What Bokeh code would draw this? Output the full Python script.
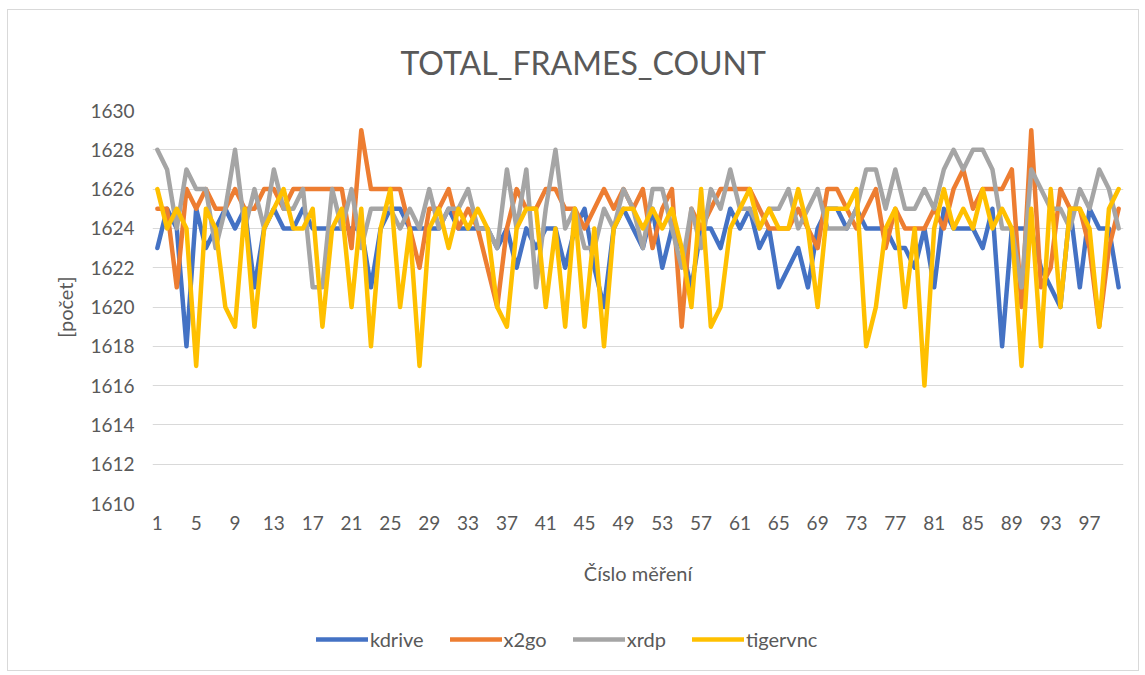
from bokeh.plotting import figure
from bokeh.layouts import column
from bokeh.models import Range1d, FixedTicker, Legend, LegendItem, Title
from bokeh.embed import file_html
from bokeh.resources import INLINE

measurements = list(range(1, 101))

kdrive = [1623, 1625, 1624, 1618, 1625, 1623, 1624, 1625, 1624, 1625,
          1621, 1624, 1625, 1624, 1624, 1625, 1624, 1624, 1624, 1624,
          1624, 1624, 1621, 1624, 1625, 1625, 1624, 1624, 1624, 1624,
          1625, 1624, 1624, 1624, 1624, 1623, 1624, 1622, 1624, 1623,
          1624, 1624, 1622, 1624, 1625, 1622, 1620, 1624, 1625, 1624,
          1623, 1625, 1622, 1624, 1623, 1621, 1624, 1624, 1623, 1625,
          1624, 1625, 1623, 1624, 1621, 1622, 1623, 1621, 1624, 1625,
          1625, 1624, 1625, 1624, 1624, 1624, 1623, 1623, 1622, 1624,
          1621, 1625, 1624, 1624, 1624, 1623, 1625, 1618, 1624, 1624,
          1624, 1622, 1621, 1620, 1625, 1621, 1625, 1624, 1624, 1621]

x2go = [1625, 1625, 1621, 1626, 1625, 1626, 1625, 1625, 1626, 1625,
        1625, 1626, 1626, 1625, 1626, 1626, 1626, 1626, 1626, 1626,
        1623, 1629, 1626, 1626, 1626, 1626, 1624, 1622, 1625, 1625,
        1626, 1624, 1625, 1624, 1622, 1620, 1624, 1626, 1625, 1625,
        1626, 1626, 1625, 1625, 1624, 1625, 1626, 1625, 1626, 1625,
        1626, 1623, 1625, 1626, 1619, 1625, 1624, 1625, 1626, 1626,
        1626, 1626, 1625, 1624, 1624, 1624, 1625, 1624, 1623, 1626,
        1626, 1625, 1624, 1625, 1626, 1623, 1625, 1624, 1624, 1624,
        1625, 1624, 1626, 1627, 1625, 1626, 1626, 1626, 1627, 1620,
        1629, 1621, 1622, 1626, 1625, 1625, 1623, 1619, 1623, 1625]

xrdp = [1628, 1627, 1624, 1627, 1626, 1626, 1623, 1625, 1628, 1624,
        1626, 1624, 1627, 1625, 1625, 1626, 1621, 1621, 1626, 1624,
        1626, 1623, 1625, 1625, 1625, 1624, 1625, 1624, 1626, 1624,
        1625, 1625, 1626, 1624, 1624, 1623, 1627, 1624, 1627, 1621,
        1625, 1628, 1624, 1625, 1623, 1623, 1625, 1624, 1626, 1625,
        1623, 1626, 1626, 1624, 1622, 1625, 1623, 1626, 1625, 1627,
        1625, 1625, 1624, 1625, 1625, 1626, 1624, 1625, 1626, 1624,
        1624, 1624, 1625, 1627, 1627, 1625, 1627, 1625, 1625, 1626,
        1625, 1627, 1628, 1627, 1628, 1628, 1627, 1624, 1624, 1621,
        1627, 1626, 1625, 1625, 1624, 1626, 1625, 1627, 1626, 1624]

tigervnc = [1626, 1624, 1625, 1624, 1617, 1625, 1624, 1620, 1619, 1625,
            1619, 1624, 1625, 1626, 1624, 1624, 1625, 1619, 1624, 1625,
            1620, 1625, 1618, 1624, 1626, 1620, 1624, 1617, 1624, 1625,
            1623, 1625, 1624, 1625, 1624, 1620, 1619, 1624, 1625, 1625,
            1620, 1624, 1619, 1625, 1619, 1624, 1618, 1624, 1625, 1625,
            1624, 1625, 1624, 1625, 1623, 1620, 1626, 1619, 1620, 1624,
            1625, 1626, 1624, 1625, 1624, 1624, 1626, 1624, 1620, 1625,
            1625, 1625, 1626, 1618, 1620, 1624, 1625, 1620, 1624, 1616,
            1624, 1626, 1624, 1625, 1624, 1626, 1624, 1625, 1624, 1617,
            1625, 1618, 1626, 1620, 1625, 1625, 1624, 1619, 1625, 1626]

series_names = ["kdrive", "x2go", "xrdp", "tigervnc"]
series_values = [kdrive, x2go, xrdp, tigervnc]
series_colors = ["#4472C4", "#ED7D31", "#A5A5A5", "#FFC000"]

y_ticks = list(range(1610, 1631, 2))
x_ticks = list(range(1, 101, 4))

TEXT = "#595959"
FONT = "Lato"
W = 1130

p = figure(width=W, height=600, output_backend="svg", toolbar_location=None,
           x_range=Range1d(0.5, 100.5), y_range=Range1d(1610, 1630),
           min_border_left=144, min_border_right=15, min_border_top=100,
           min_border_bottom=107)
p.outline_line_color = None

t = Title(text="TOTAL_FRAMES_COUNT", align="left", offset=248,
          text_font=FONT, text_font_size="32px", text_font_style="normal",
          text_color=TEXT, standoff=58)
p.add_layout(t, "above")

p.xgrid.grid_line_color = None
p.ygrid.grid_line_color = "#D9D9D9"
p.ygrid.grid_line_width = 1.2
p.ygrid.ticker = FixedTicker(ticks=y_ticks)

p.yaxis.ticker = FixedTicker(ticks=y_ticks)
p.xaxis.ticker = FixedTicker(ticks=x_ticks)
for ax in (p.xaxis[0], p.yaxis[0]):
    ax.axis_line_color = None
    ax.major_tick_line_color = None
    ax.minor_tick_line_color = None
    ax.major_label_text_font = FONT
    ax.major_label_text_font_size = "19px"
    ax.major_label_text_color = TEXT
    ax.axis_label_text_font = FONT
    ax.axis_label_text_font_size = "20px"
    ax.axis_label_text_font_style = "normal"
    ax.axis_label_text_color = TEXT

p.xaxis.axis_label = "Číslo měření"
p.xaxis.major_label_standoff = 6
p.xaxis.axis_label_standoff = 28
p.yaxis.axis_label = "[počet]"
p.yaxis.major_label_standoff = 12
p.yaxis.axis_label_standoff = 10

for name, vals, col in zip(series_names, series_values, series_colors):
    p.line(measurements, vals, line_color=col, line_width=4.5,
           line_join="round", line_cap="round")

# legend strip below the chart (same series, drawn outside its visible range)
lg = figure(width=W, height=60, output_backend="svg", toolbar_location=None,
            x_range=Range1d(-1000, -999), y_range=Range1d(0, 1),
            x_axis_type=None, y_axis_type=None, min_border=0)
lg.grid.visible = False
lg.outline_line_color = None
items = []
for name, vals, col in zip(series_names, series_values, series_colors):
    r = lg.line(measurements, vals, line_color=col, line_width=4.5,
                line_cap="round")
    items.append(LegendItem(label=name, renderers=[r]))
legend = Legend(items=items, orientation="horizontal", location=(164, 19),
                label_text_font=FONT, label_text_font_size="20px",
                label_text_color=TEXT, glyph_width=52, glyph_height=20,
                label_standoff=2, spacing=26, border_line_color=None,
                background_fill_alpha=0, margin=0, padding=0)
lg.add_layout(legend, "center")

layout = column(p, lg, spacing=0,
                styles={"border": "1px solid #D9D9D9", "margin-left": "7px",
                        "margin-top": "9px"})

open("out.html", "w").write(file_html(layout, INLINE))
